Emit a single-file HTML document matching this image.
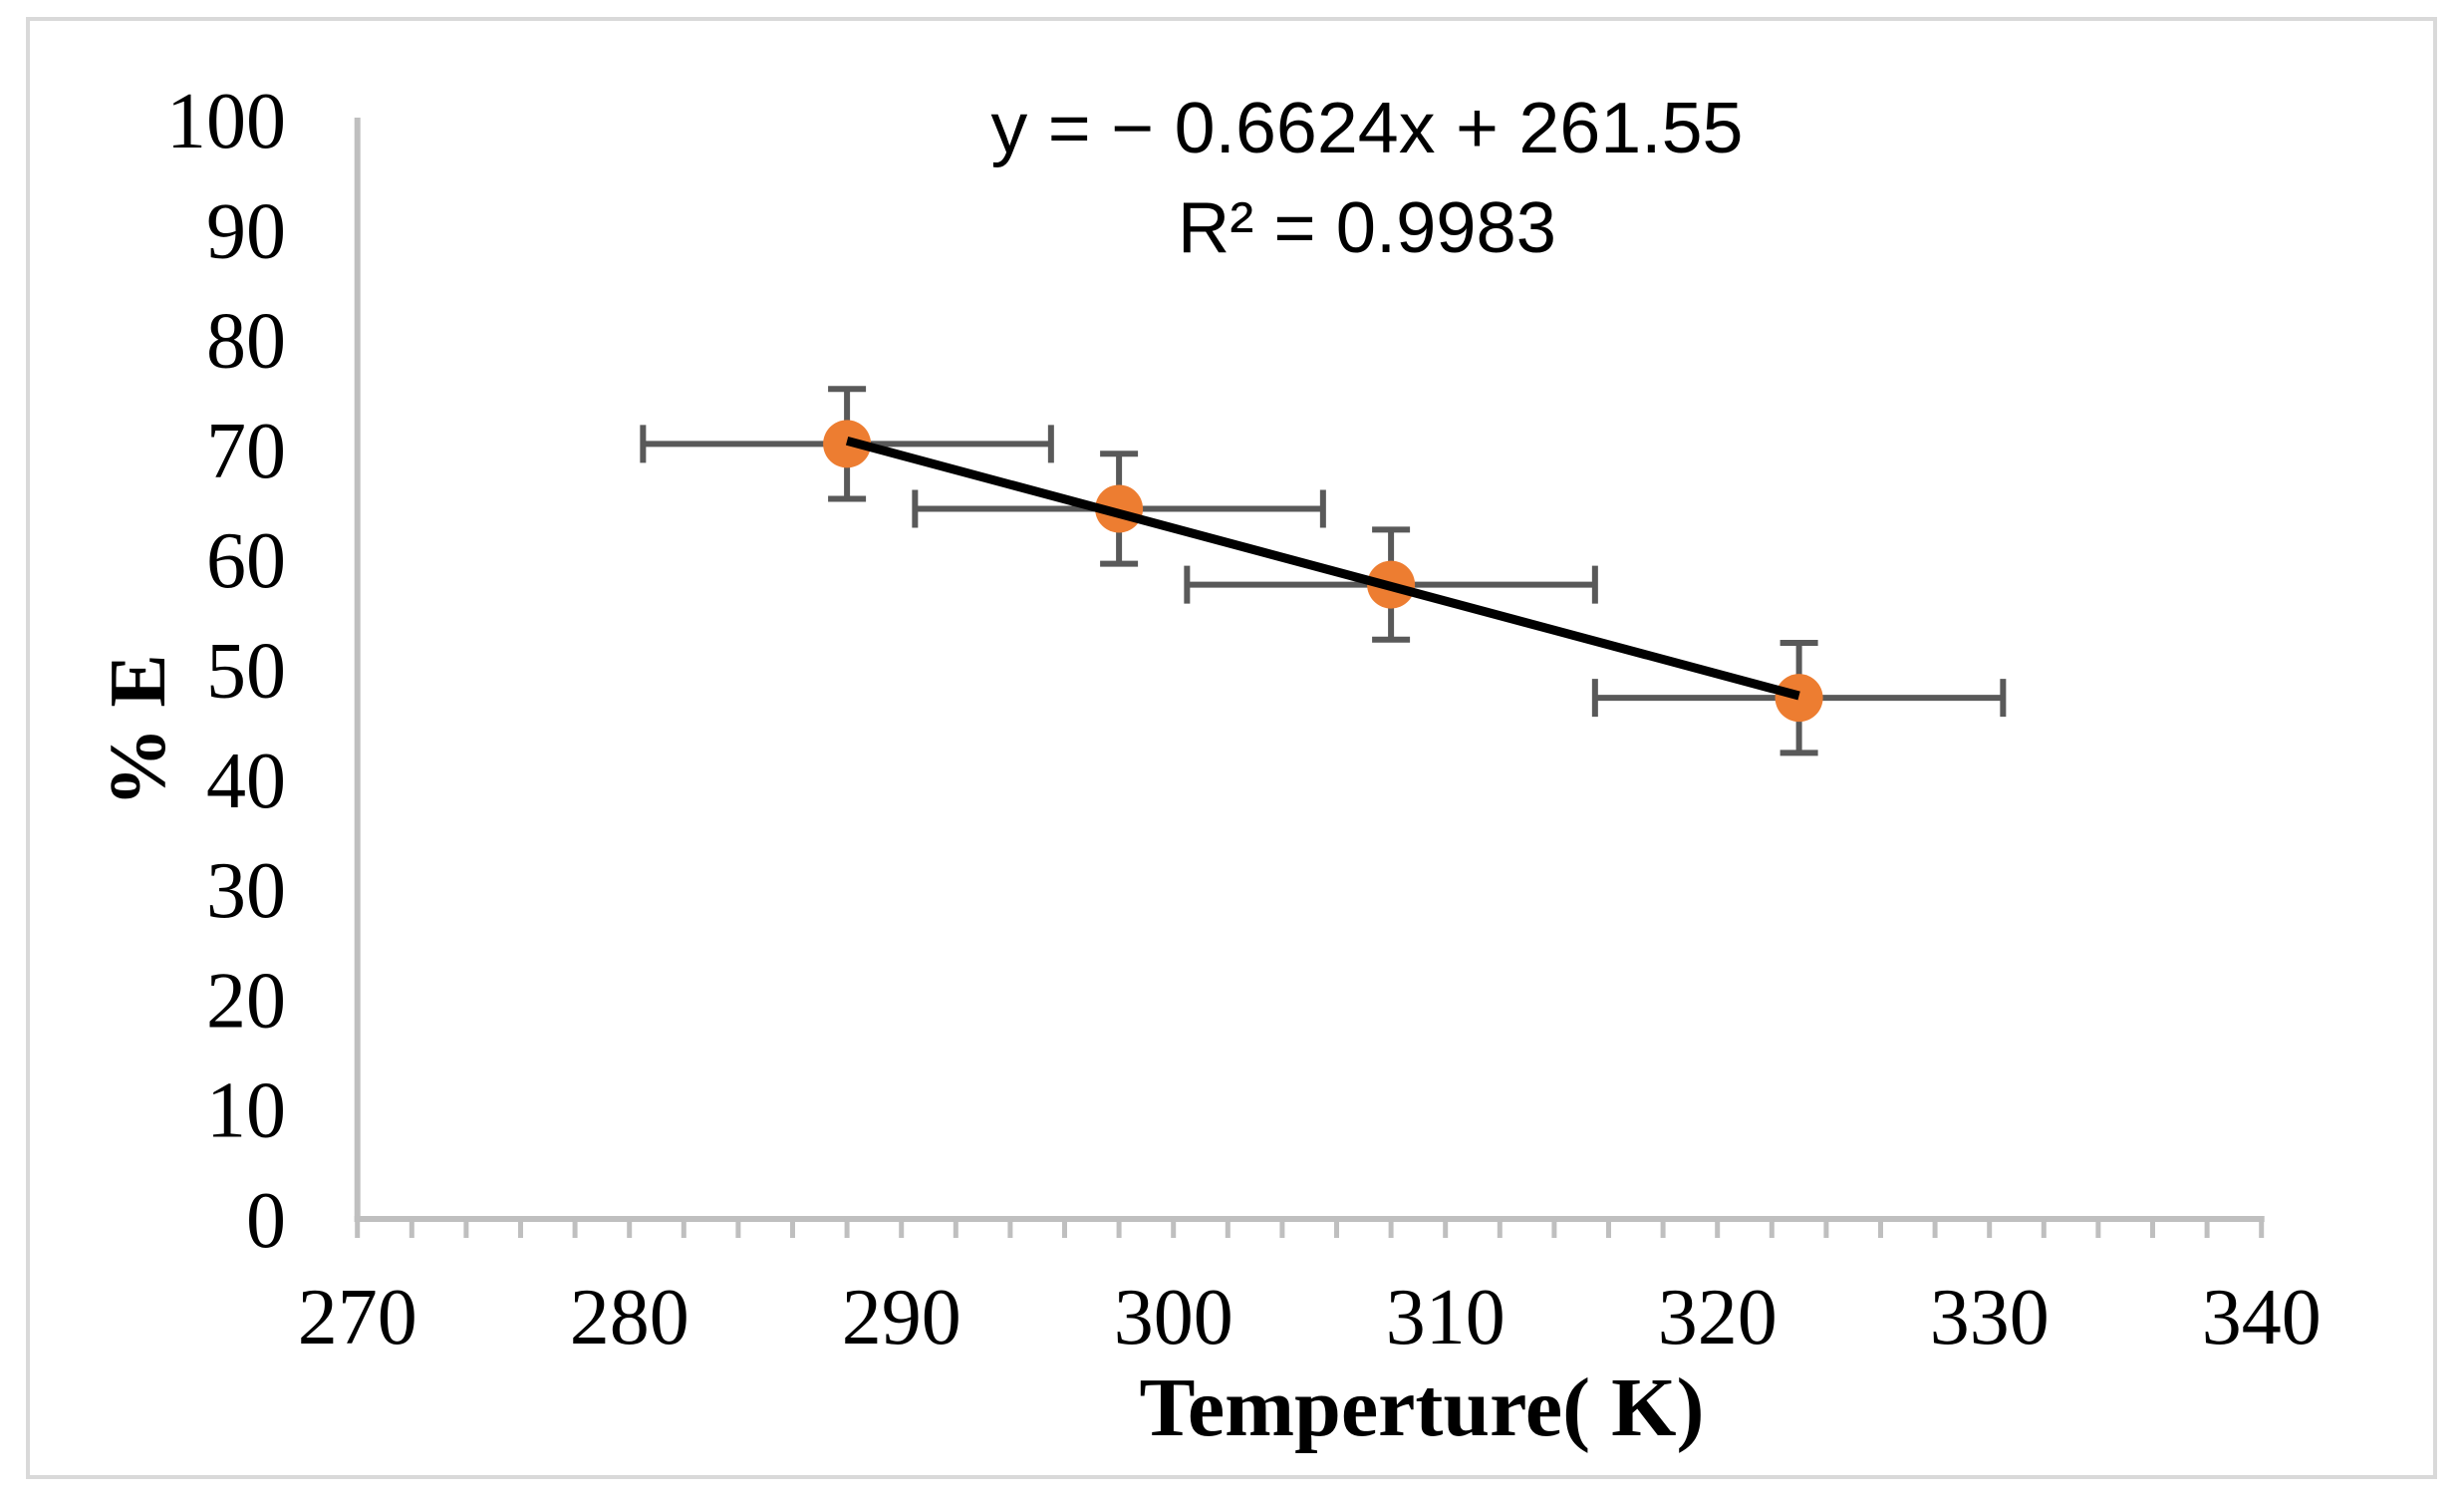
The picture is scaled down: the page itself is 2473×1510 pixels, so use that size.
<!DOCTYPE html>
<html><head><meta charset="utf-8"><style>
html,body{margin:0;padding:0;background:#fff;}
svg{display:block;}
</style></head><body>
<svg id="chart" width="2473" height="1510" viewBox="0 0 2473 1510" xmlns="http://www.w3.org/2000/svg">
<rect x="28" y="19" width="2416" height="1463" fill="#fff" stroke="#d9d9d9" stroke-width="4"/>
<g id="axes"></g>
<g id="series"></g>
<text x="1372" y="153" text-anchor="middle" font-family="Liberation Sans, sans-serif" font-size="72" textLength="755" lengthAdjust="spacingAndGlyphs" fill="#000">y = − 0.6624x + 261.55</text>
<text x="1372" y="253" text-anchor="middle" font-family="Liberation Sans, sans-serif" font-size="72" textLength="380" lengthAdjust="spacingAndGlyphs" fill="#000">R² = 0.9983</text>
<text transform="translate(165,733) rotate(-90)" text-anchor="middle" font-family="Liberation Serif, serif" font-weight="bold" font-size="80" fill="#000">% E</text>
<text x="1427" y="1440" text-anchor="middle" font-family="Liberation Serif, serif" font-weight="bold" font-size="84" fill="#000">Temperture( K)</text>
</svg>
<script>
const temps = [288, 298, 308, 323];
const extraction = [70.5, 64.6, 57.7, 47.4];
const xErr = [7.5, 7.5, 7.5, 7.5];
const yErr = [5, 5, 5, 5];
const xTicks = [270, 280, 290, 300, 310, 320, 330, 340];
const yTicks = [0, 10, 20, 30, 40, 50, 60, 70, 80, 90, 100];
const slope = -0.6624;
const intercept = 261.55;

const X0 = 358.7, XS = 27.3, Y0 = 1223, YS = 11.03;
function sx(v){ return X0 + (v - 270) * XS; }
function sy(v){ return Y0 - v * YS; }
const NS = 'http://www.w3.org/2000/svg';
function mk(tag, attrs, parent){
  const e = document.createElementNS(NS, tag);
  for (const k in attrs) e.setAttribute(k, attrs[k]);
  parent.appendChild(e);
  return e;
}
const axes = document.getElementById('axes');
const series = document.getElementById('series');

let l = mk('line', {x1: sx(270), y1: sy(100) - 2, x2: sx(270), y2: Y0 + 3, stroke: '#bfbfbf', 'stroke-width': 6}, axes);


l = mk('line', {x1: sx(270) - 3, y1: Y0, x2: sx(340) + 3, y2: Y0, stroke: '#bfbfbf', 'stroke-width': 6}, axes);


for (let v = 270; v <= 340; v += 2) {
  const t = mk('line', {x1: sx(v), y1: Y0, x2: sx(v), y2: Y0 + 19, stroke: '#bfbfbf', 'stroke-width': 5}, axes);
  
  
}
xTicks.forEach(v => {
  const t = mk('text', {x: sx(v), y: 1348, 'text-anchor': 'middle', 'font-family': 'Liberation Serif, serif', 'font-size': 80, fill: '#000'}, axes);
  t.textContent = v;
  
  
});
yTicks.forEach(v => {
  const t = mk('text', {x: 287, y: sy(v) + 28, 'text-anchor': 'end', 'font-family': 'Liberation Serif, serif', 'font-size': 80, fill: '#000'}, axes);
  t.textContent = v;
  
  
});
const ec = '#595959', ew = 6, cap = 19;
temps.forEach((x, i) => {
  const y = extraction[i];
  const g = mk('g', {}, series);
  
  
  mk('line', {x1: sx(x - xErr[i]), y1: sy(y), x2: sx(x + xErr[i]), y2: sy(y), stroke: ec, 'stroke-width': ew}, g);
  mk('line', {x1: sx(x - xErr[i]), y1: sy(y) - cap, x2: sx(x - xErr[i]), y2: sy(y) + cap, stroke: ec, 'stroke-width': ew}, g);
  mk('line', {x1: sx(x + xErr[i]), y1: sy(y) - cap, x2: sx(x + xErr[i]), y2: sy(y) + cap, stroke: ec, 'stroke-width': ew}, g);
  mk('line', {x1: sx(x), y1: sy(y - yErr[i]), x2: sx(x), y2: sy(y + yErr[i]), stroke: ec, 'stroke-width': ew}, g);
  mk('line', {x1: sx(x) - cap, y1: sy(y + yErr[i]), x2: sx(x) + cap, y2: sy(y + yErr[i]), stroke: ec, 'stroke-width': ew}, g);
  mk('line', {x1: sx(x) - cap, y1: sy(y - yErr[i]), x2: sx(x) + cap, y2: sy(y - yErr[i]), stroke: ec, 'stroke-width': ew}, g);
});
temps.forEach((x, i) => {
  const c = mk('circle', {cx: sx(x), cy: sy(extraction[i]), r: 24, fill: '#ed7d31'}, series);
  
  
});
const xa = temps[0], xb = temps[temps.length - 1];
const tl = mk('line', {x1: sx(xa), y1: sy(slope * xa + intercept), x2: sx(xb), y2: sy(slope * xb + intercept), stroke: '#000', 'stroke-width': 9}, series);


</script>
</body></html>
